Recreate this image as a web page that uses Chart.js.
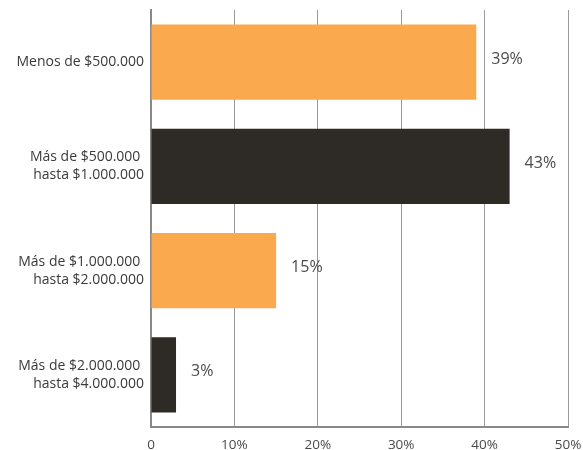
<!DOCTYPE html>
<html>
<head>
<meta charset="utf-8">
<script src="https://cdn.jsdelivr.net/npm/chart.js@4/dist/chart.umd.min.js"></script>
<style>
  html, body { margin: 0; padding: 0; background: #fff; }
  #wrap { width: 583px; height: 450px; }
</style>
</head>
<body>
<div id="wrap"><canvas id="rangos" width="583" height="450"></canvas></div>
<script>
// price ranges (two-line labels) and share of each range in %
const rangos = [
  ["Menos de $500.000"],
  ["Más de $500.000 ", "hasta $1.000.000"],
  ["Más de $1.000.000 ", "hasta $2.000.000"],
  ["Más de $2.000.000 ", "hasta $4.000.000"]
];
const porcentajes = [39, 43, 15, 3];
const colores = ["#fba94f", "#2e2a26", "#fba94f", "#2e2a26"];
const ticksX = [0, 10, 20, 30, 40, 50];

const FONT = "'Open Sans', sans-serif";

// prints "NN%" a bit to the right of each bar end
const etiquetas = {
  id: "etiquetas",
  afterDatasetsDraw(chart) {
    const ctx = chart.ctx;
    const meta = chart.getDatasetMeta(0);
    ctx.save();
    ctx.font = "16px " + FONT;
    ctx.fillStyle = "#4a4a4a";
    ctx.textAlign = "left";
    ctx.textBaseline = "middle";
    meta.data.forEach((bar, i) => {
      ctx.fillText(porcentajes[i] + "%", bar.x + 15, bar.y - 3);
    });
    ctx.restore();
  }
};

new Chart(document.getElementById("rangos"), {
  type: "bar",
  data: {
    labels: rangos,
    datasets: [{
      data: porcentajes,
      backgroundColor: colores,
      barPercentage: 0.72,
      categoryPercentage: 1
    }]
  },
  options: {
    indexAxis: "y",
    responsive: false,
    animation: false,
    layout: { padding: { top: 10, right: 15, left: 0, bottom: 0 } },
    plugins: { legend: { display: false }, tooltip: { enabled: false } },
    scales: {
      x: {
        min: 0,
        max: 50,
        afterBuildTicks(scale) {
          scale.ticks = ticksX.map(v => ({ value: v }));
        },
        afterFit(scale) {
          scale.height = 23;
          scale.paddingLeft = 0;
          scale.paddingRight = 0;
        },
        grid: { color: "#9a9a9a", lineWidth: 1, drawTicks: false },
        border: { color: "#888", width: 2 },
        ticks: {
          padding: 10,
          color: "#4a4a4a",
          font: { family: FONT, size: 13.5 },
          callback: v => v === 0 ? "0" : v + "%"
        }
      },
      y: {
        afterFit(scale) {
          scale.width = 151;
          scale.paddingTop = 0;
          scale.paddingBottom = 0;
        },
        grid: { display: false, drawTicks: false },
        border: { color: "#888", width: 2 },
        ticks: {
          padding: 7,
          color: "#3a3a3a",
          font: { family: FONT, size: 14, lineHeight: 1.3 }
        }
      }
    }
  },
  plugins: [etiquetas]
});
</script>
</body>
</html>
